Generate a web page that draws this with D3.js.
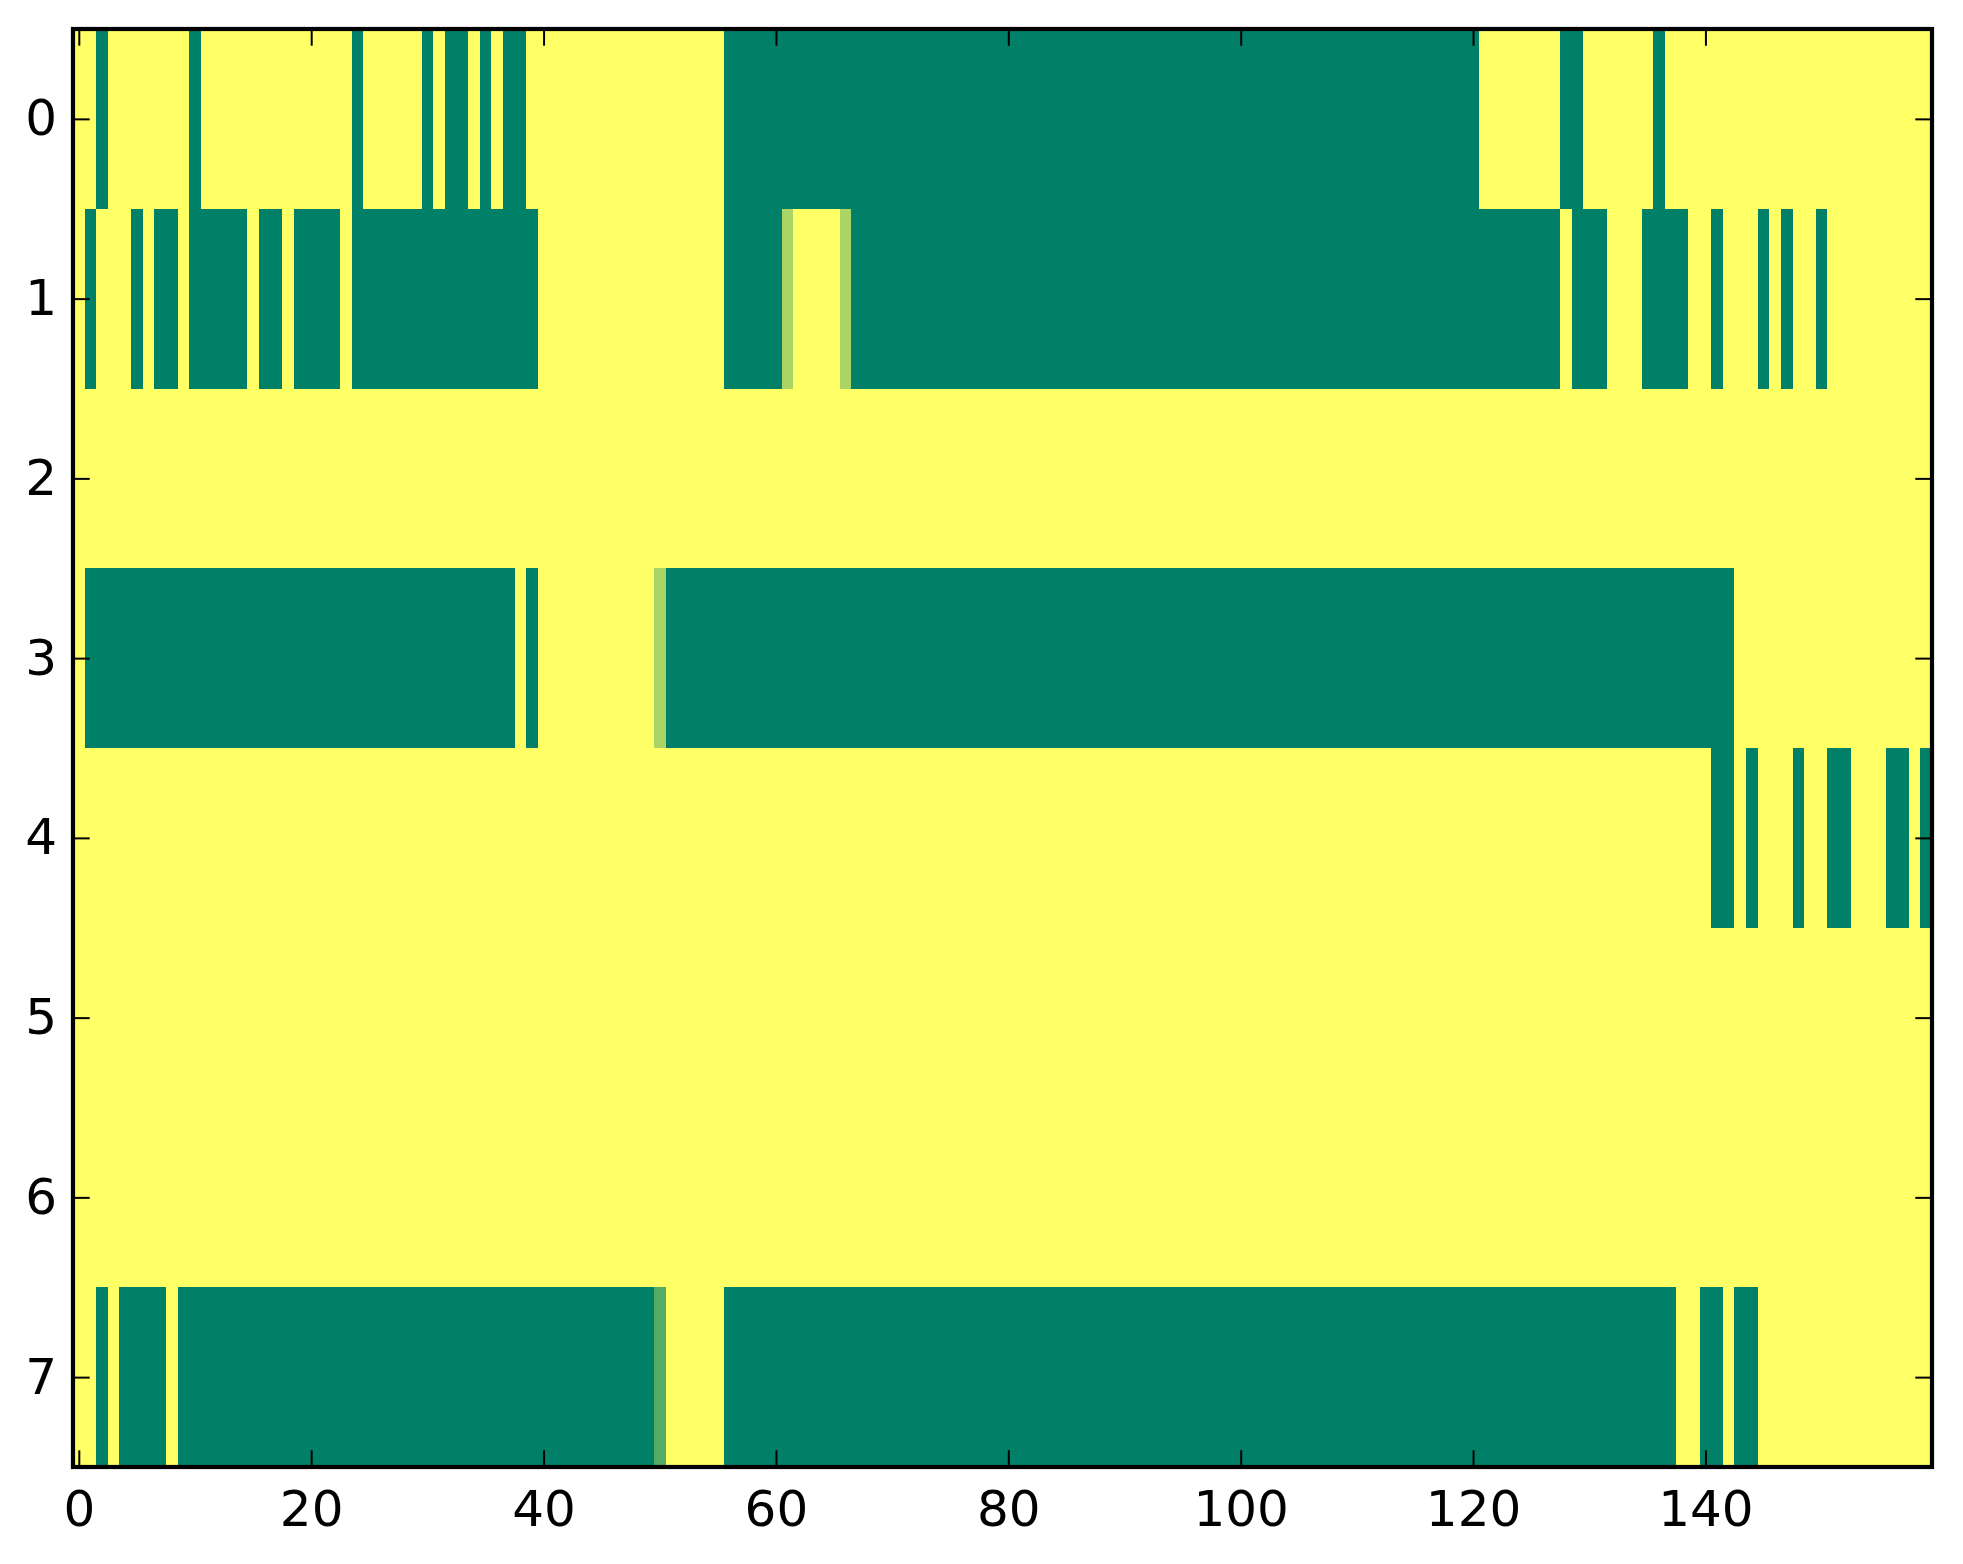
<!DOCTYPE html>
<html>
<head>
<meta charset="utf-8">
<script src="https://cdn.jsdelivr.net/npm/d3@7"></script>
<style>
  body { margin: 0; background: #fff; }
  svg { display: block; }
</style>
</head>
<body>
<div id="area"></div>
<script>
// one string per row, 160 cells each (spaces only group by 10)
// 1 = yellow, 0 = green, L = 2/3, M = 1/3
const row0 = "1101111111 0111111111 1111011111 0100101001 1111111111 1111110000 0000000000 0000000000 0000000000 0000000000 0000000000 0000000000 0111111100 1111110111 1111111111 1111111111"
const row1 = "1011101001 0000010010 0001000000 0000000000 1111111111 1111110000 0L1111L000 0000000000 0000000000 0000000000 0000000000 0000000000 0000000010 0011100001 1011101011 0111111111"
const row2 = "1111111111 1111111111 1111111111 1111111111 1111111111 1111111111 1111111111 1111111111 1111111111 1111111111 1111111111 1111111111 1111111111 1111111111 1111111111 1111111111"
const row3 = "1000000000 0000000000 0000000000 0000000010 1111111111 L000000000 0000000000 0000000000 0000000000 0000000000 0000000000 0000000000 0000000000 0000000000 0001111111 1111111111"
const row4 = "1111111111 1111111111 1111111111 1111111111 1111111111 1111111111 1111111111 1111111111 1111111111 1111111111 1111111111 1111111111 1111111111 1111111111 1001011101 1001110010"
const row5 = "1111111111 1111111111 1111111111 1111111111 1111111111 1111111111 1111111111 1111111111 1111111111 1111111111 1111111111 1111111111 1111111111 1111111111 1111111111 1111111111"
const row6 = "1111111111 1111111111 1111111111 1111111111 1111111111 1111111111 1111111111 1111111111 1111111111 1111111111 1111111111 1111111111 1111111111 1111111111 1111111111 1111111111"
const row7 = "1101000010 0000000000 0000000000 0000000000 0000000000 M111110000 0000000000 0000000000 0000000000 0000000000 0000000000 0000000000 0000000000 0000000011 0010011111 1111111111"

const rows = [row0, row1, row2, row3, row4, row5, row6, row7]
const codes = {"0": 0, "1": 1, "L": 2 / 3, "M": 1 / 3}

const xTicks = [0, 20, 40, 60, 80, 100, 120, 140]
const yTicks = [0, 1, 2, 3, 4, 5, 6, 7]

let cells = []
rows.forEach((r, i) => {
    r.replace(/ /g, "").split("").forEach((ch, j) => {
        cells.push({row: i, col: j, v: codes[ch]})
    })
})

const W = 1963, H = 1564
const plotLeft = 73, plotRight = 1932, plotTop = 29, plotBottom = 1467
const nCols = rows[0].replace(/ /g, "").length

const x = d3.scaleLinear().domain([-0.5, nCols - 0.5]).range([plotLeft, plotRight])
const y = d3.scaleLinear().domain([-0.5, rows.length - 0.5]).range([plotTop, plotBottom])
// matplotlib "summer"
const color = d3.scaleLinear().domain([0, 1]).range(["#008066", "#ffff66"])

const svg = d3.select("#area").append("svg")
    .attr("width", W)
    .attr("height", H)

svg.append("rect").attr("width", W).attr("height", H).attr("fill", "white")

svg.append("g")
    .attr("shape-rendering", "crispEdges")
    .selectAll("rect")
    .data(cells)
    .join("rect")
    .attr("x", d => x(d.col - 0.5))
    .attr("y", d => y(d.row - 0.5))
    .attr("width", d => x(d.col + 0.5) - x(d.col - 0.5) + 0.5)
    .attr("height", d => y(d.row + 0.5) - y(d.row - 0.5) + 0.5)
    .attr("fill", d => color(d.v))

const tick = 16.7

function styleAxis(g) {
    g.select(".domain").remove()
    g.selectAll(".tick line").attr("stroke", "black").attr("stroke-width", 2)
    g.selectAll(".tick text")
        .attr("fill", "black")
        .attr("font-family", "DejaVu Sans")
        .attr("font-size", 50)
}

svg.append("g")
    .attr("transform", `translate(0,${plotBottom})`)
    .call(d3.axisBottom(x).tickValues(xTicks).tickSize(-tick).tickPadding(23))
    .call(styleAxis)

svg.append("g")
    .attr("transform", `translate(0,${plotTop})`)
    .call(d3.axisTop(x).tickValues(xTicks).tickSize(-tick).tickFormat(""))
    .call(styleAxis)

svg.append("g")
    .attr("transform", `translate(${plotLeft},0)`)
    .call(d3.axisLeft(y).tickValues(yTicks).tickSize(-tick).tickPadding(16))
    .call(styleAxis)

svg.append("g")
    .attr("transform", `translate(${plotRight},0)`)
    .call(d3.axisRight(y).tickValues(yTicks).tickSize(-tick).tickFormat(""))
    .call(styleAxis)

svg.append("rect")
    .attr("x", plotLeft)
    .attr("y", plotTop)
    .attr("width", plotRight - plotLeft)
    .attr("height", plotBottom - plotTop)
    .attr("fill", "none")
    .attr("stroke", "black")
    .attr("stroke-width", 4.2)
</script>
</body>
</html>
